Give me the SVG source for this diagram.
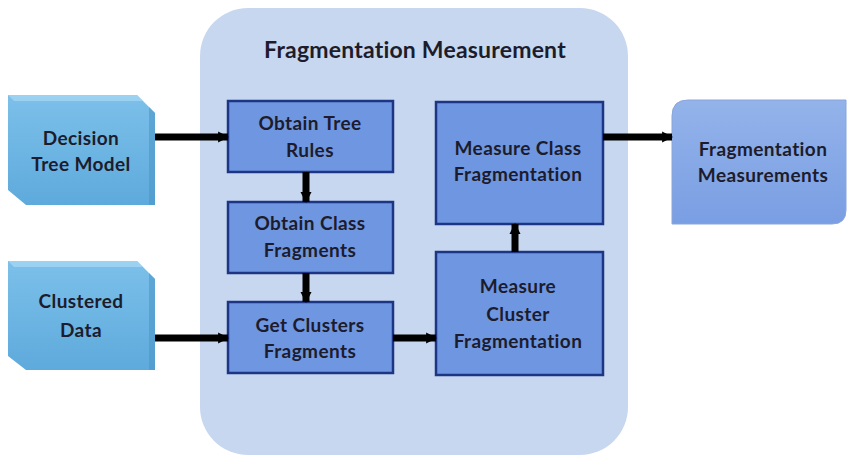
<svg xmlns="http://www.w3.org/2000/svg" width="850" height="459" viewBox="0 0 850 459">
<defs>
<style>
.t{font-family:Lato,"Open Sans","Liberation Sans",sans-serif;font-weight:bold;font-size:19px;letter-spacing:0.4px;fill:#1c1c2c;text-anchor:middle}
.title{font-size:23px;letter-spacing:0.2px}
.proc{fill:#6f96e0;stroke:#1d3585;stroke-width:2.5}
.in{fill:url(#gin)}
.conn{stroke:#000;stroke-width:7;fill:none}
</style>
<linearGradient id="gin" x1="0" y1="0" x2="0" y2="1">
<stop offset="0" stop-color="#7cc0ea"/>
<stop offset="1" stop-color="#5eaadc"/>
</linearGradient>
<linearGradient id="gout" x1="0" y1="0" x2="0" y2="1">
<stop offset="0" stop-color="#93b3ea"/>
<stop offset="1" stop-color="#7a9ee3"/>
</linearGradient>
<marker id="ah" viewBox="0 0 10 10" refX="9" refY="5" markerUnits="userSpaceOnUse" markerWidth="11" markerHeight="16" orient="auto">
<path d="M0,0 L10,5 L0,10 Z" fill="#000"/>
</marker>
</defs>
<rect width="850" height="459" fill="#ffffff"/>
<g id="container">
<rect x="200" y="8" width="428" height="447" rx="48" fill="#c7d7ef"/>
<text class="t title" x="415" y="58">Fragmentation Measurement</text>
</g>
<g id="decision-tree-model">
<polygon class="in" points="8,95 137,95 155,113 155,205 26,205 8,190"/>
<polygon points="8,95 137,95 143,101 14,101" fill="#a9d8f3" opacity="0.7"/>
<polygon points="149,107 155,113 155,205 149,205" fill="#4b96c8" opacity="0.6"/>
<text class="t" x="81" y="145">Decision</text>
<text class="t" x="81" y="171">Tree Model</text>
</g>
<g id="clustered-data">
<polygon class="in" points="8,261 137,261 155,279 155,370 26,370 8,356"/>
<polygon points="8,261 137,261 143,267 14,267" fill="#a9d8f3" opacity="0.7"/>
<polygon points="149,273 155,279 155,370 149,370" fill="#4b96c8" opacity="0.6"/>
<text class="t" x="81" y="308">Clustered</text>
<text class="t" x="81" y="337">Data</text>
</g>
<g id="obtain-tree-rules">
<rect class="proc" x="228" y="101" width="165" height="71"/>
<text class="t" x="310" y="130">Obtain Tree</text>
<text class="t" x="310" y="157">Rules</text>
</g>
<g id="obtain-class-fragments">
<rect class="proc" x="228" y="202" width="165" height="71"/>
<text class="t" x="310" y="230">Obtain Class</text>
<text class="t" x="310" y="257">Fragments</text>
</g>
<g id="get-clusters-fragments">
<rect class="proc" x="228" y="302" width="165" height="71"/>
<text class="t" x="310" y="332">Get Clusters</text>
<text class="t" x="310" y="358">Fragments</text>
</g>
<g id="measure-class-fragmentation">
<rect class="proc" x="436" y="102" width="167" height="122"/>
<text class="t" x="518" y="155">Measure Class</text>
<text class="t" x="518" y="181">Fragmentation</text>
</g>
<g id="measure-cluster-fragmentation">
<rect class="proc" x="436" y="252" width="167" height="123"/>
<text class="t" x="518" y="293">Measure</text>
<text class="t" x="518" y="321">Cluster</text>
<text class="t" x="518" y="348">Fragmentation</text>
</g>
<g id="fragmentation-measurements">
<path d="M688,100 H846 V210 Q846,224 832,224 H672 V116 Q672,100 688,100 Z" fill="url(#gout)" stroke="#8aa6da" stroke-width="1"/>
<text class="t" x="763" y="156">Fragmentation</text>
<text class="t" x="763" y="182">Measurements</text>
</g>
<g id="connectors">
<line class="conn" x1="155" y1="137" x2="228" y2="137" marker-end="url(#ah)"/>
<line class="conn" x1="155" y1="338" x2="228" y2="338" marker-end="url(#ah)"/>
<line class="conn" x1="306" y1="172" x2="306" y2="202" marker-end="url(#ah)"/>
<line class="conn" x1="306" y1="273" x2="306" y2="302" marker-end="url(#ah)"/>
<line class="conn" x1="393" y1="338" x2="436" y2="338" marker-end="url(#ah)"/>
<line class="conn" x1="515" y1="252" x2="515" y2="224" marker-end="url(#ah)"/>
<line class="conn" x1="603" y1="137" x2="672" y2="137" marker-end="url(#ah)"/>
</g>
</svg>
